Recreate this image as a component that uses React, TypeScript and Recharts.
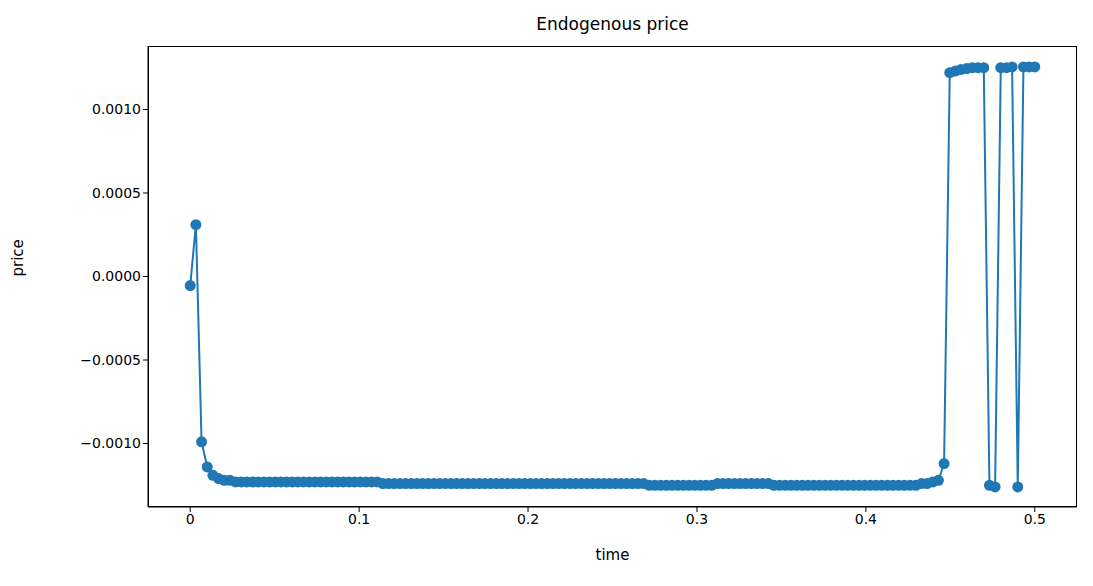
import React from "react";
import { LineChart, Line, XAxis, YAxis } from "recharts";

const N_POINTS = 150;
const T_END = 0.5;

// price values, one per sample
const PRICE: number[] = [
  -0.000054, 0.00031, -0.00099, -0.00114, -0.00119, -0.00121, -0.00122, -0.00122,
  -0.00123, -0.00123, -0.00123, -0.00123, -0.00123, -0.00123, -0.00123, -0.00123,
  -0.00123, -0.00123, -0.00123, -0.00123, -0.00123, -0.00123, -0.00123, -0.00123,
  -0.00123, -0.00123, -0.00123, -0.00123, -0.00123, -0.00123, -0.00123, -0.00123,
  -0.00123, -0.00123,
  -0.00124, -0.00124, -0.00124, -0.00124, -0.00124, -0.00124, -0.00124, -0.00124,
  -0.00124, -0.00124, -0.00124, -0.00124, -0.00124, -0.00124, -0.00124, -0.00124,
  -0.00124, -0.00124, -0.00124, -0.00124, -0.00124, -0.00124, -0.00124, -0.00124,
  -0.00124, -0.00124, -0.00124, -0.00124, -0.00124, -0.00124, -0.00124, -0.00124,
  -0.00124, -0.00124, -0.00124, -0.00124, -0.00124, -0.00124, -0.00124, -0.00124,
  -0.00124, -0.00124, -0.00124, -0.00124, -0.00124, -0.00124, -0.00124,
  -0.00125, -0.00125, -0.00125, -0.00125, -0.00125, -0.00125, -0.00125, -0.00125,
  -0.00125, -0.00125, -0.00125, -0.00125,
  -0.00124, -0.00124, -0.00124, -0.00124, -0.00124, -0.00124, -0.00124, -0.00124,
  -0.00124, -0.00124,
  -0.00125, -0.00125, -0.00125, -0.00125, -0.00125, -0.00125, -0.00125, -0.00125,
  -0.00125, -0.00125, -0.00125, -0.00125, -0.00125, -0.00125, -0.00125, -0.00125,
  -0.00125, -0.00125, -0.00125, -0.00125, -0.00125, -0.00125, -0.00125, -0.00125,
  -0.00125, -0.00125,
  -0.00124, -0.00124, -0.00123, -0.00122, -0.00112,
  0.00122, 0.00123, 0.00124, 0.001245, 0.00125, 0.00125, 0.00125,
  -0.00125, -0.00126, 0.00125, 0.00125, 0.001255, -0.00126,
  0.001255, 0.001255, 0.001255,
];

const X_TICKS = [0, 0.1, 0.2, 0.3, 0.4, 0.5];
const Y_TICKS = [-0.001, -0.0005, 0, 0.0005, 0.001];

const data = PRICE.slice(0, N_POINTS).map((p, i) => ({
  time: (i * T_END) / (N_POINTS - 1),
  price: p,
}));

const BLUE = "#1f77b4";
const FONT = "DejaVu Sans, sans-serif";

const fmtY = (v: number) => {
  const s = Math.abs(v).toFixed(4);
  return v < 0 ? "\u2212" + s : s;
};

export default function App() {
  return (
    <div style={{ position: "relative", width: 1093, height: 586, margin: -8, background: "#fff", fontFamily: FONT }}>
      <div style={{ position: "absolute", top: 14, left: 148, width: 929, textAlign: "center", fontSize: 17 }}>
        Endogenous price
      </div>
      <LineChart width={1093} height={586} data={data} margin={{ top: 46, right: 16, bottom: 0, left: 0 }}>
        <XAxis
          dataKey="time"
          type="number"
          domain={[-0.025, 0.525]}
          ticks={X_TICKS}
          tickFormatter={(v) => String(v)}
          height={79}
          stroke="#000"
          tick={{ fill: "#000", fontSize: 14, fontFamily: FONT }}
          tickSize={5}
          label={{ value: "time", position: "insideTop", offset: 42, fill: "#000", fontSize: 15, fontFamily: FONT }}
        />
        <YAxis
          type="number"
          domain={[-0.00138, 0.00138]}
          ticks={Y_TICKS}
          tickFormatter={fmtY}
          width={148}
          stroke="#000"
          allowDataOverflow
          tick={{ fill: "#000", fontSize: 14, fontFamily: FONT }}
          tickSize={5}
          label={{ value: "price", angle: -90, position: "insideLeft", offset: 18, fill: "#000", fontSize: 15, fontFamily: FONT }}
        />
        <Line
          dataKey="price"
          stroke={BLUE}
          strokeWidth={2}
          dot={{ r: 5.5, fill: BLUE, stroke: BLUE, strokeWidth: 0 }}
          isAnimationActive={false}
        />
      </LineChart>
      <div style={{ position: "absolute", left: 148, top: 46, width: 929, height: 461, border: "1px solid #000", boxSizing: "border-box", pointerEvents: "none" }} />
    </div>
  );
}
